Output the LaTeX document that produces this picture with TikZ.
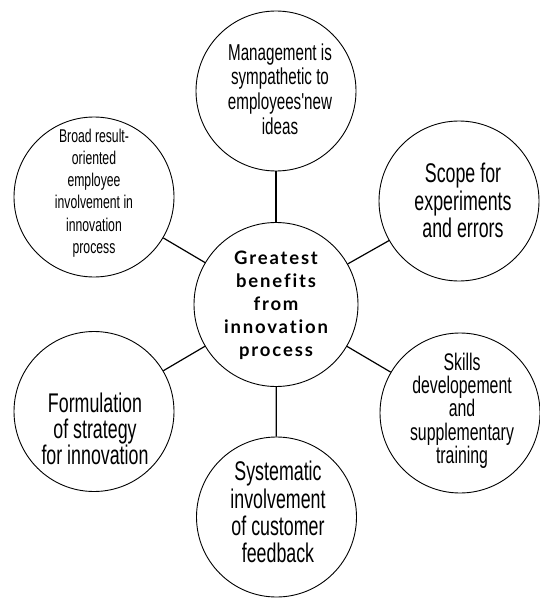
\documentclass[tikz,border=0pt]{standalone}
\usepackage{fontspec}
\setmainfont{Liberation Sans}
\newfontfamily\narrowfont[FakeStretch=0.66]{Liberation Sans}
\newfontfamily\hubfont[LetterSpace=10,Ligatures=NoCommon]{Lato}
\begin{document}
\begin{tikzpicture}[x=1pt,y=-1pt,
  outer/.style={circle,draw,line width=0.9pt,minimum size=160pt,inner sep=0pt},
  hub/.style={circle,draw,line width=0.9pt,minimum size=164pt,inner sep=0pt},
  conn/.style={line width=1.2pt},
  lbl/.style={align=center,inner sep=0pt}]
\useasboundingbox (0,0) rectangle (540,599);
% circles
\node[hub]   (hub) at (276,304.5) {};
\node[outer] (ct)  at (276,91) {};
\node[outer] (clt) at (94,197) {};
\node[outer] (crt) at (459,201) {};
\node[outer] (clb) at (94,411.5) {};
\node[outer] (crb) at (460,413) {};
\node[outer] (cb)  at (276.5,517) {};
% connectors
\draw[conn] (hub) -- (ct);
\draw[conn] (hub) -- (clt);
\draw[conn] (hub) -- (crt);
\draw[conn] (hub) -- (clb);
\draw[conn] (hub) -- (crb);
\draw[conn] (hub) -- (cb);
% texts
\node[lbl,font=\hubfont\bfseries\fontsize{18.5}{23.1}\selectfont] (thub) at (276,305.5)
  {Greatest\\benefits\\from\\innovation\\process};
\node[lbl,font=\narrowfont\fontsize{23}{24.7}\selectfont] (tt) at (280,89)
  {Management is\\sympathetic to\\employees'new\\ideas};
\node[lbl,font=\narrowfont\fontsize{18.5}{22.3}\selectfont] (tlt) at (94,193)
  {Broad result-\\oriented\\employee\\involvement in\\innovation\\process};
\node[lbl,font=\narrowfont\fontsize{27}{27.5}\selectfont] (trt) at (463,200.5)
  {Scope for\\experiments\\and errors};
\node[lbl,font=\narrowfont\fontsize{27}{26}\selectfont] (tlb) at (95,429)
  {Formulation\\of strategy\\for innovation};
\node[lbl,font=\narrowfont\fontsize{24}{23.3}\selectfont] (trb) at (462,410.5)
  {Skills\\developement\\and\\supplementary\\training};
\node[lbl,font=\narrowfont\fontsize{27}{27.3}\selectfont] (tb) at (278,512)
  {Systematic\\involvement\\of customer\\feedback};
\end{tikzpicture}
\end{document}
